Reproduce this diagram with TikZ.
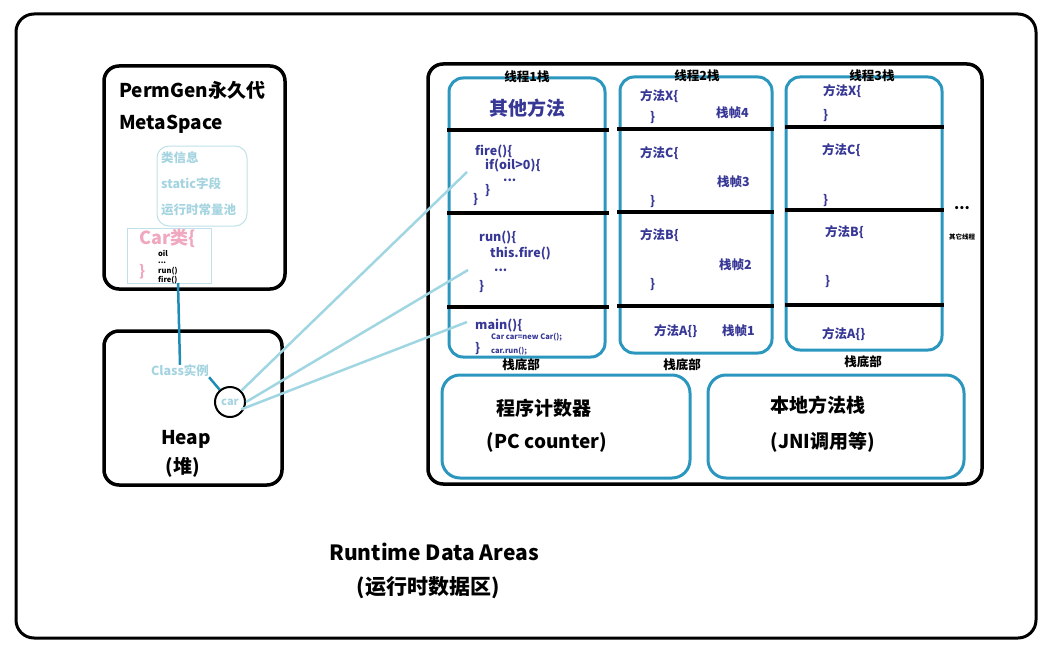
\documentclass[tikz,border=0pt]{standalone}
\usepackage{fontspec}
\setmainfont{Noto Sans CJK SC}
\definecolor{stackblue}{RGB}{43,150,190}
\definecolor{codeblue}{RGB}{55,55,150}
\definecolor{paletext}{RGB}{165,212,224}
\definecolor{pinktext}{RGB}{240,168,190}
\definecolor{linkblue}{RGB}{160,214,226}
\definecolor{tealline}{RGB}{30,140,180}
\tikzset{
  frame/.style={draw=black, line width=3.5pt, rounded corners=15pt, inner sep=0pt},
  stackbox/.style={draw=stackblue, line width=3pt, rounded corners=14pt, inner sep=0pt},
  palebox/.style={draw=paletext!70, line width=1pt, rounded corners=12pt, inner sep=0pt},
  sep/.style={line width=4pt, black},
  code/.style={text=codeblue, font=\bfseries\fontsize{12.5}{13}\selectfont, inner sep=0pt, anchor=west},
  big/.style={font=\bfseries\fontsize{19}{20}\selectfont, inner sep=0pt},
  small/.style={font=\bfseries\fontsize{12.5}{13}\selectfont, inner sep=0pt},
  pale/.style={text=paletext, font=\bfseries\fontsize{12.5}{13}\selectfont, inner sep=0pt, anchor=west},
  tiny/.style={font=\bfseries\fontsize{7.5}{8}\selectfont, inner sep=0pt, anchor=west},
  link/.style={draw=linkblue, line width=2.5pt},
}
\begin{document}
\begin{tikzpicture}[x=1pt,y=-1pt]
\useasboundingbox (0,0) rectangle (1046,658);
% outer frame
\node[frame, line width=3pt, rounded corners=18pt, minimum width=1020pt, minimum height=624pt] (outer) at (526,326) {};
% PermGen
\node[frame, minimum width=181pt, minimum height=223pt] (perm) at (194.5,177.5) {};
\node[big, anchor=west] (permt) at (119,90) {PermGen永久代};
\node[big, anchor=west] (metat) at (119,124) {MetaSpace};
\node[palebox, minimum width=90pt, minimum height=80pt] (meta) at (202,186) {};
\node[pale] (m1) at (161,158) {类信息};
\node[pale] (m2) at (161,184) {static字段};
\node[pale] (m3) at (161,210) {运行时常量池};
\node[draw=paletext!70, line width=1pt, minimum width=84pt, minimum height=55pt, inner sep=0pt] (carbox) at (169,255.5) {};
\node[text=pinktext, font=\bfseries\fontsize{18}{19}\selectfont, inner sep=0pt, anchor=west] (carcls) at (139,238) {Car类\{};
\node[text=pinktext, font=\bfseries\fontsize{15}{16}\selectfont, inner sep=0pt, anchor=west] (carend) at (139,272) {\}};
\node[tiny] (f1) at (158,253.5) {oil};
\node[tiny] (f2) at (158,262.5) {...};
\node[tiny] (f3) at (158,271.5) {run()};
\node[tiny] (f4) at (158,280.5) {fire()};
% Heap
\node[frame, minimum width=178pt, minimum height=154pt] (heap) at (193,408) {};
\node[pale, anchor=center] (inst) at (180,371) {Class实例};
\node[draw=black, circle, line width=2pt, minimum size=30pt, inner sep=0pt, text=paletext, font=\bfseries\fontsize{11}{12}\selectfont] (car) at (230,402) {car};
\node[big] (heapt) at (186,439) {Heap};
\node[big] (heapz) at (183,467) {(堆)};
\draw[tealline, line width=2.5pt] (178,283) -- (inst.north);
\draw[tealline, line width=2.5pt] (inst.south east) -- (car);
% right frame
\node[frame, minimum width=554pt, minimum height=420pt] (rt) at (705,274) {};
% thread 1
\node[stackbox, minimum width=156pt, minimum height=279pt] (t1) at (527,217.5) {};
\node[small] (t1t) at (527,77) {线程1栈};
\draw[sep] (447,130) -- (609,130);
\draw[sep] (447,213) -- (609,213);
\draw[sep] (447,307) -- (609,307);
\node[text=codeblue, font=\bfseries\fontsize{19}{20}\selectfont, inner sep=0pt] (other) at (527,108) {其他方法};
\node[code] (fire) at (475,152) {fire()\{};
\node[code] (c2) at (485,166) {if(oil>0)\{};
\node[code] (c3) at (503,180) {...};
\node[code] (c4) at (485,191) {\}};
\node[code] (c5) at (473,200) {\}};
\node[code] (run) at (479,238) {run()\{};
\node[code] (c7) at (490,254) {this.fire()};
\node[code] (c8) at (494,270) {...};
\node[code] (c9) at (479,287) {\}};
\node[code] (main) at (475,326) {main()\{};
\node[code, font=\bfseries\fontsize{7.5}{8}\selectfont] (c11) at (491,337) {Car car=new Car();};
\node[code] (c12) at (475,349) {\}};
\node[code, font=\bfseries\fontsize{7.5}{8}\selectfont] (c13) at (491,351) {car.run();};
\node[small] (b1) at (521,365) {栈底部};
\coordinate (l1) at (467,172);
\coordinate (l2) at (468,270);
\coordinate (l3) at (467,322);
\draw[link] (car.north east) -- (l1);
\draw[link] (car.east) -- (l2);
\draw[link] (car.south east) ++(0,-4) -- (l3);
% thread 2
\node[stackbox, minimum width=152pt, minimum height=276pt] (t2) at (696,215) {};
\node[small] (t2t) at (697,76) {线程2栈};
\draw[sep] (617,129) -- (774,129);
\draw[sep] (617,212) -- (774,212);
\draw[sep] (617,306) -- (774,306);
\node[code] (x2) at (640,96) {方法X\{};
\node[code] (x2e) at (650,118) {\}};
\node[code] (s4) at (716,113) {栈帧4};
\node[code] (cc2) at (640,153) {方法C\{};
\node[code] (s3) at (717,182) {栈帧3};
\node[code] (cc2e) at (650,202) {\}};
\node[code] (bb2) at (640,235) {方法B\{};
\node[code] (s2) at (719,265) {栈帧2};
\node[code] (bb2e) at (650,285) {\}};
\node[code] (aa2) at (654,331) {方法A\{\}};
\node[code] (s1) at (722,331) {栈帧1};
\node[small] (b2) at (682,365) {栈底部};
% thread 3
\node[stackbox, minimum width=156pt, minimum height=273pt] (t3) at (864,213.5) {};
\node[small] (t3t) at (872,76) {线程3栈};
\draw[sep] (785,127) -- (944,127);
\draw[sep] (785,210) -- (944,210);
\draw[sep] (785,305) -- (944,305);
\node[code] (x3) at (823,91) {方法X\{};
\node[code] (x3e) at (823,116) {\}};
\node[code] (cc3) at (822,150) {方法C\{};
\node[code] (cc3e) at (823,201) {\}};
\node[code] (bb3) at (825,232) {方法B\{};
\node[code] (bb3e) at (825,282) {\}};
\node[code] (aa3) at (822,334) {方法A\{\}};
\node[small] (b3) at (863,362) {栈底部};
\node[font=\bfseries\fontsize{15}{15}\selectfont, inner sep=0pt] (dots) at (962,208) {...};
\node[font=\bfseries\fontsize{6.5}{7}\selectfont, inner sep=0pt] (oth) at (962,237) {其它线程};
% PC and native
\node[stackbox, rounded corners=18pt, minimum width=248pt, minimum height=103pt] (pc) at (566,426.5) {};
\node[big] (pct) at (544,408) {程序计数器};
\node[big] (pcs) at (547,442) {(PC counter)};
\node[stackbox, rounded corners=18pt, minimum width=256pt, minimum height=103pt] (nat) at (836,426.5) {};
\node[big] (natt) at (818,405) {本地方法栈};
\node[big] (nats) at (823,442) {(JNI调用等)};
% title
\node[font=\bfseries\fontsize{21}{22}\selectfont, inner sep=0pt] (rda) at (434,552) {Runtime Data Areas};
\node[font=\bfseries\fontsize{21}{22}\selectfont, inner sep=0pt] (rdaz) at (428,588) {(运行时数据区)};
\end{tikzpicture}
\end{document}
